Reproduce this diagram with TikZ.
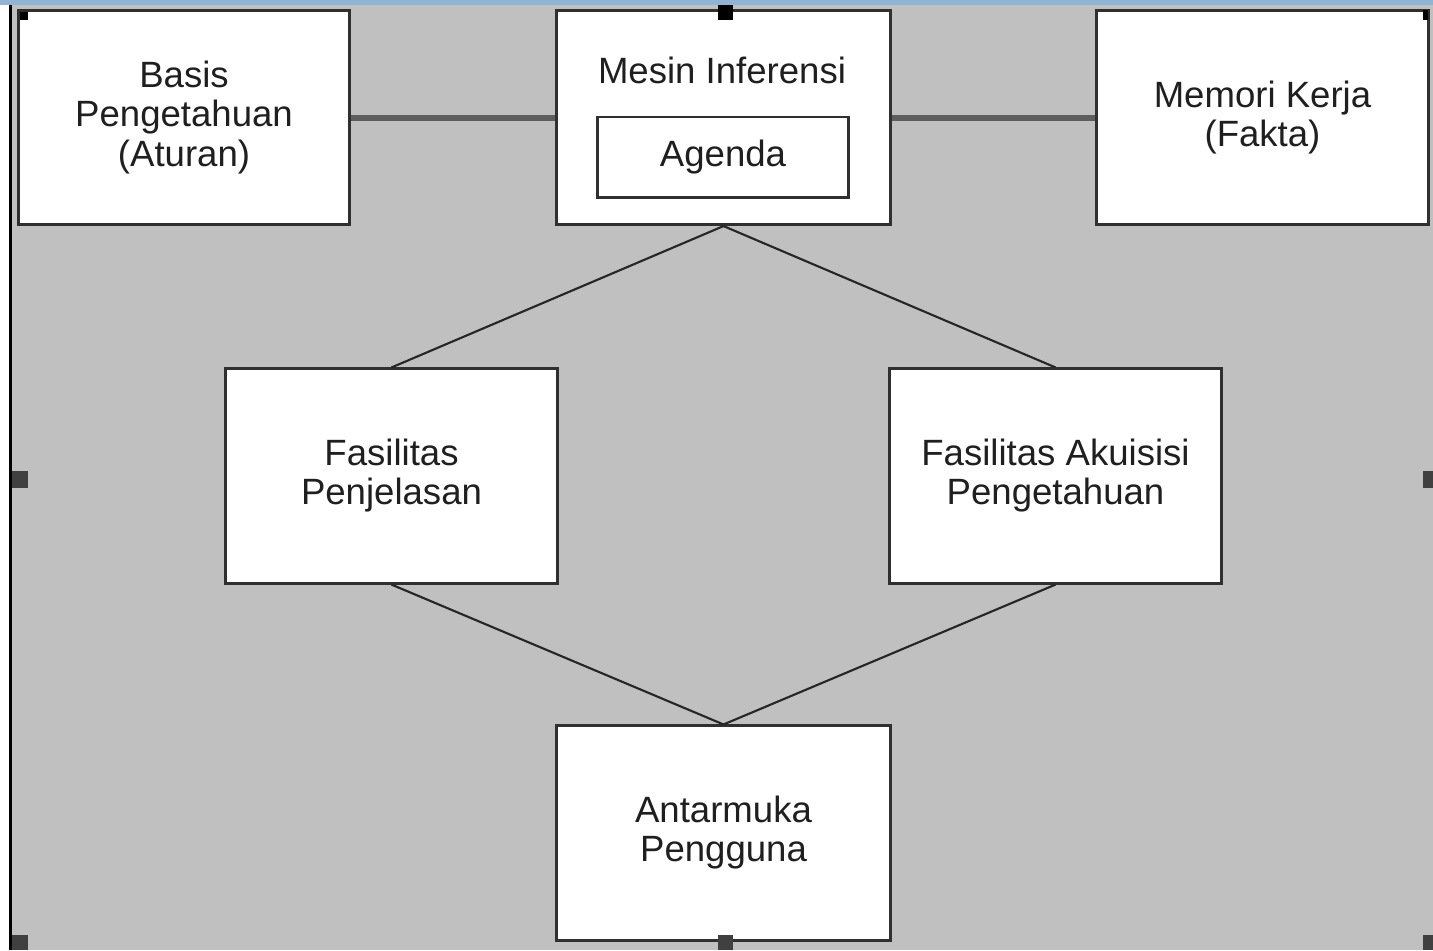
\documentclass[tikz,border=0pt]{standalone}
\usepackage{fontspec}
\setmainfont{Liberation Sans}
\definecolor{bggray}{HTML}{C0C0C0}
\definecolor{topblue}{HTML}{8FB4D6}
\definecolor{edge}{HTML}{303030}
\definecolor{busline}{HTML}{5E5E5E}
\definecolor{grip}{HTML}{404040}
\tikzset{
  box/.style={draw=edge, fill=white, line width=0.85pt, minimum width=3.31cm,
    minimum height=2.14cm, inner sep=0pt, align=center,
    font=\fontsize{10.4}{11.1}\selectfont, text=black!88},
  link/.style={draw=black!85, line width=0.6pt},
  bus/.style={draw=busline, line width=1.7pt},
  handle/.style={fill=grip}
}
\begin{document}
\begin{tikzpicture}[x=0.01cm,y=-0.01cm]
\useasboundingbox (0,0) rectangle (1433,950);
% window
\fill[bggray] (12,5) rectangle (1433,950);
\fill[topblue] (0,0) rectangle (1433,5);
\fill[black] (9,5) rectangle (12,950);
% top row
\node[box] (basis) at (184,117.5) {Basis\\Pengetahuan\\(Aturan)};
\node[box, minimum width=3.33cm] (mesin) at (723.5,117.5) {};
\node[font=\fontsize{10.4}{11.1}\selectfont, text=black!88] (mesintxt) at (722,70) {Mesin Inferensi};
\node[box, minimum width=2.5cm, minimum height=0.8cm] (agenda) at (723,157) {Agenda};
\node[box] (memori) at (1262.5,117.5) {Memori Kerja\\(Fakta)};
% middle row
\node[box] (penjelasan) at (391.5,476) {Fasilitas\\Penjelasan};
\node[box] (akuisisi) at (1055.5,476) {Fasilitas Akuisisi\\Pengetahuan};
% bottom
\node[box, minimum width=3.33cm] (antarmuka) at (723.5,833) {Antarmuka\\Pengguna};
% connectors
\draw[bus] (basis.east) -- (mesin.west);
\draw[bus] (mesin.east) -- (memori.west);
\draw[link] (mesin.south) -- (penjelasan.north);
\draw[link] (mesin.south) -- (akuisisi.north);
\draw[link] (penjelasan.south) -- (antarmuka.north);
\draw[link] (akuisisi.south) -- (antarmuka.north);
% sizing handles
\fill[handle] (12,471) rectangle (28,488);
\fill[handle] (1423,471) rectangle (1433,488);
\fill[handle] (12,935) rectangle (28,950);
\fill[handle] (1423,935) rectangle (1433,950);
\fill[black] (718,5) rectangle (733,20);
\fill[handle] (718,935) rectangle (733,950);
\fill[black] (20,12) rectangle (28,20);
\fill[black] (1423,10) rectangle (1428,20);
\end{tikzpicture}
\end{document}
